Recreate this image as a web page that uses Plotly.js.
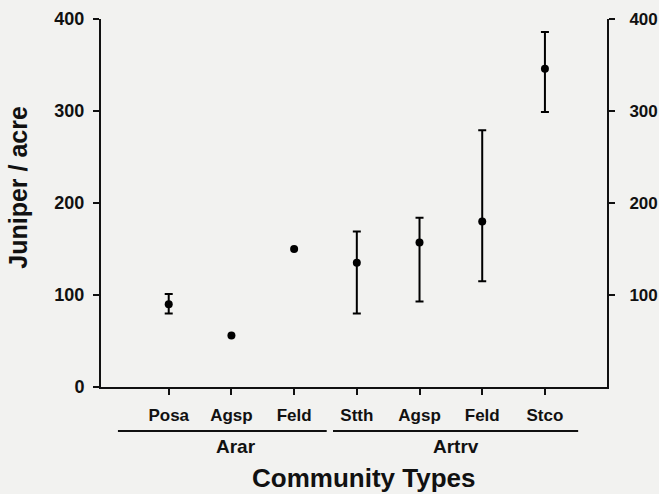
<!DOCTYPE html>
<html>
<head>
<meta charset="utf-8">
<script src="https://cdn.plot.ly/plotly-3.0.1.min.js"></script>
<style>html,body{margin:0;padding:0;background:#f2f2f0;}</style>
</head>
<body>
<div id="chart" style="width:659px;height:494px;"></div>
<script>
// Data
var communityTypes = ["Posa", "Agsp", "Feld", "Stth", "Agsp", "Feld", "Stco"];
var groupNames = ["Arar", "Artrv"];
var groupFirst = [0, 3];   // index of first community in group
var groupLast  = [2, 6];   // index of last community in group
var juniperMean  = [90, 56, 150, 135, 157, 180, 346];
var juniperUpper = [101, null, null, 169, 184, 279, 386];
var juniperLower = [80, null, null, 80, 93, 115, 299];
var yTickVals = [0, 100, 200, 300, 400];
var yTickValsRight = [100, 200, 300, 400];

var idx = communityTypes.map(function (_, i) { return i; });
var errPlus = juniperMean.map(function (m, i) { return juniperUpper[i] == null ? NaN : juniperUpper[i] - m; });
var errMinus = juniperMean.map(function (m, i) { return juniperLower[i] == null ? NaN : m - juniperLower[i]; });

var FONT = "Liberation Sans, Arial, Helvetica, sans-serif";

var traces = [
  {
    x: idx, y: juniperMean, type: "scatter", mode: "markers",
    marker: { color: "#000", size: 8 },
    error_y: { type: "data", symmetric: false, array: errPlus, arrayminus: errMinus,
               color: "#000", thickness: 2, width: 4 },
    showlegend: false, hoverinfo: "skip"
  },
  {
    x: idx, y: juniperMean, type: "scatter", mode: "none", yaxis: "y2",
    showlegend: false, hoverinfo: "skip"
  }
];

var shapes = [];
var annotations = [];
var lineStartOff = [-0.81, -0.38];
var lineEndOff = [0.52, 0.53];
var labelOff = [0.07, 0.08];
for (var g = 0; g < groupNames.length; g++) {
  shapes.push({ type: "line", xref: "x", yref: "paper",
    x0: groupFirst[g] + lineStartOff[g], x1: groupLast[g] + lineEndOff[g],
    y0: -0.1196, y1: -0.1196, line: { color: "#111", width: 2 } });
  annotations.push({ xref: "x", yref: "paper", x: (groupFirst[g] + groupLast[g]) / 2 + labelOff[g],
    y: -0.163, yanchor: "middle", xanchor: "center", showarrow: false,
    text: groupNames[g], font: { family: FONT, size: 19, color: "#111", weight: "bold" } });
}
annotations.push({ xref: "paper", yref: "paper", x: 0.519, y: -0.247, xanchor: "center", yanchor: "middle",
  showarrow: false, text: "Community Types", font: { family: FONT, size: 26, color: "#111", weight: "bold" } });
annotations.push({ xref: "paper", yref: "paper", x: -0.163, y: 0.543, xanchor: "center", yanchor: "middle",
  textangle: -90, showarrow: false, text: "Juniper / acre",
  font: { family: FONT, size: 25, color: "#111", weight: "bold" } });

var axisCommon = {
  showline: true, linecolor: "#111", linewidth: 2, ticks: "outside", ticklen: 6, tickwidth: 2,
  tickcolor: "#111", showgrid: false, zeroline: false, fixedrange: true
};

var layout = {
  width: 659, height: 494,
  margin: { l: 101, r: 52, t: 19, b: 107, pad: 0 },
  paper_bgcolor: "#f2f2f0", plot_bgcolor: "#f2f2f0",
  font: { family: FONT, color: "#111", weight: "bold" },
  xaxis: Object.assign({}, axisCommon, {
    range: [-1.08, 6.99], tickmode: "array", tickvals: idx, ticktext: communityTypes,
    tickfont: { family: FONT, size: 17, color: "#111", weight: "bold" }, ticklabelstandoff: 6
  }),
  yaxis: Object.assign({}, axisCommon, {
    range: [0, 400], tickmode: "array", tickvals: yTickVals,
    tickfont: { family: FONT, size: 18, color: "#111", weight: "bold" }, ticklabelstandoff: 5
  }),
  yaxis2: Object.assign({}, axisCommon, {
    range: [0, 400], overlaying: "y", side: "right", tickmode: "array", tickvals: yTickValsRight,
    tickfont: { family: FONT, size: 17, color: "#111", weight: "bold" }, ticklabelstandoff: 11
  }),
  shapes: shapes,
  annotations: annotations
};

Plotly.newPlot("chart", traces, layout, { displayModeBar: false, staticPlot: true });
</script>
</body>
</html>
